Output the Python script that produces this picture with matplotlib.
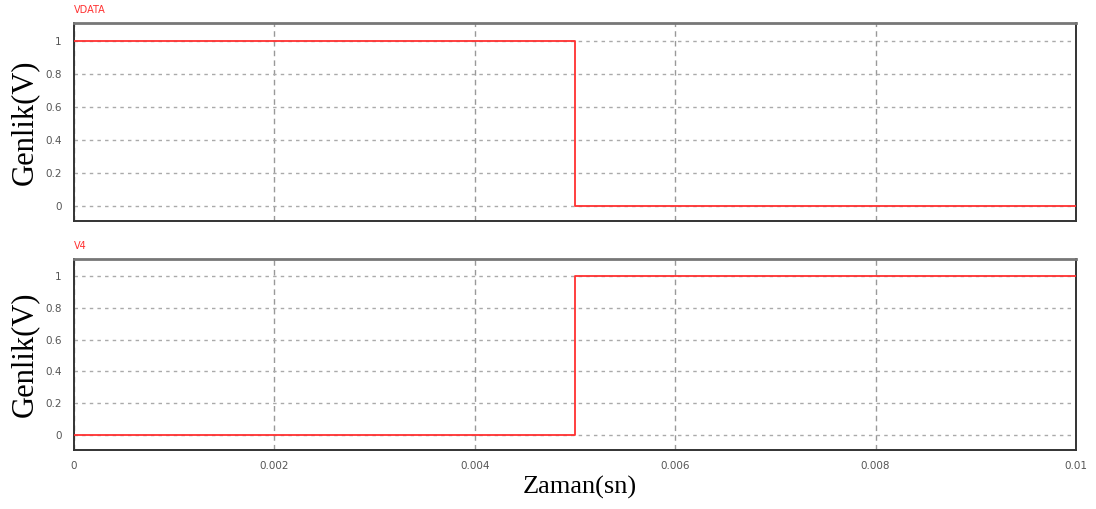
import numpy as np
import matplotlib.pyplot as plt

# step signals (time in s, amplitude in V)
t = [0.0, 0.005, 0.005, 0.01]
vdata = [1, 1, 0, 0]
v4 = [0, 0, 1, 1]

y_ticks = [0, 0.2, 0.4, 0.6, 0.8, 1]
y_ticklabels = ["0", "0.2", "0.4", "0.6", "0.8", "1"]
x_ticks = [0, 0.002, 0.004, 0.006, 0.008, 0.01]
x_ticklabels = ["0", "0.002", "0.004", "0.006", "0.008", "0.01"]

W, H = 1096, 509
fig = plt.figure(figsize=(W / 100, H / 100), dpi=100)


def make_axes(left, top, right, bottom):
    return fig.add_axes([left / W, 1 - bottom / H, (right - left) / W, (bottom - top) / H])


ax1 = make_axes(74, 23, 1076, 221)
ax2 = make_axes(74, 259, 1076, 450)

panels = [(ax1, vdata, "VDATA", (-0.09, 1.11)), (ax2, v4, "V4", (-0.094, 1.107))]

for ax, sig, name, ylim in panels:
    ax.plot(t, sig, color="#ff3030", lw=1.3, zorder=3)
    ax.set_xlim(0, 0.01)
    ax.set_ylim(*ylim)
    ax.set_yticks(y_ticks)
    ax.set_yticklabels(y_ticklabels)
    ax.set_xticks(x_ticks)
    # light dashed grid like the simulator screen
    ax.grid(True, axis="y", color="#aaaaaa", linestyle=(0, (2.5, 3)), lw=1)
    ax.grid(True, axis="x", color="#999999", linestyle=(0, (4, 3)), lw=1)
    ax.tick_params(length=0, labelsize=7.5, colors="#555555", pad=9)
    for s in ax.spines.values():
        s.set_color("#333333")
        s.set_linewidth(1.4)
    ax.spines["top"].set_color("#777777")
    ax.spines["top"].set_linewidth(2)
    ax.set_ylabel("Genlik(V)", fontsize=22, family="Liberation Serif")
    ax.yaxis.set_label_coords(-0.035, 0.5)
    ax.text(0, 1.04, name, transform=ax.transAxes, color="#ff3030", fontsize=7,
            ha="left", va="bottom")
    ax.set_axisbelow(True)

ax1.tick_params(labelbottom=False)
ax2.set_xticklabels(x_ticklabels)
ax2.tick_params(axis="x", pad=8)
ax2.set_xlabel("Zaman(sn)", fontsize=19, family="Liberation Serif")
ax2.xaxis.set_label_coords(0.505, -0.135)

fig.savefig("out.png", dpi=100)
